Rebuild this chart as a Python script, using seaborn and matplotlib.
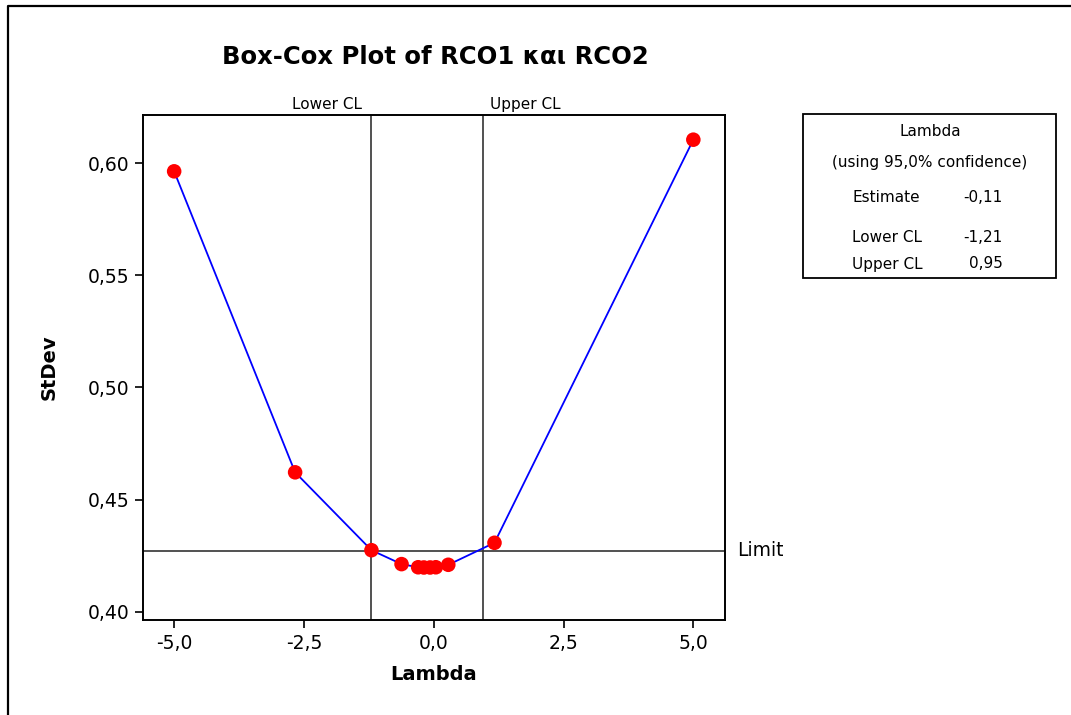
import matplotlib
matplotlib.use("Agg")
import matplotlib.pyplot as plt
from matplotlib.lines import Line2D
from matplotlib.patches import Rectangle
from matplotlib.ticker import FuncFormatter
import seaborn as sns
import pandas as pd

# Data
lambdas = [-5.0, -2.67, -1.20, -0.62, -0.30, -0.19, -0.07, 0.04, 0.28, 1.17, 5.0]
stdevs = [0.5963, 0.4622, 0.4275, 0.4213, 0.4199, 0.4198, 0.4198, 0.4199, 0.4210, 0.4308, 0.6104]
lower_cl = -1.21
upper_cl = 0.95
estimate = -0.11
limit = 0.4273
x_ticks = [-5.0, -2.5, 0.0, 2.5, 5.0]
y_ticks = [0.40, 0.45, 0.50, 0.55, 0.60]

df = pd.DataFrame({"Lambda": lambdas, "StDev": stdevs})

sns.set_style("white")
plt.rcParams["font.family"] = ["DejaVu Sans"]
plt.rcParams["text.color"] = "black"
plt.rcParams["axes.labelcolor"] = "black"
plt.rcParams["xtick.color"] = "black"
plt.rcParams["ytick.color"] = "black"

W, H = 1071, 715
fig = plt.figure(figsize=(W / 100, H / 100), dpi=100)
ax = fig.add_axes([143 / W, 1 - 620 / H, (725 - 143) / W, (620 - 115) / H])

sns.lineplot(data=df, x="Lambda", y="StDev", sort=False, color="#0000ff",
             linewidth=1.3, ax=ax, zorder=3)
sns.scatterplot(data=df, x="Lambda", y="StDev", color="#ff0000", s=110,
                edgecolor="none", ax=ax, zorder=4)

ax.axvline(lower_cl, color="#333333", linewidth=1.2, zorder=2)
ax.axvline(upper_cl, color="#333333", linewidth=1.2, zorder=2)
ax.axhline(limit, color="#333333", linewidth=1.2, zorder=2)

ax.set_xlim(-5.6, 5.61)
ax.set_ylim(0.3964, 0.6214)
ax.set_xticks(x_ticks)
ax.set_yticks(y_ticks)
ax.xaxis.set_major_formatter(FuncFormatter(lambda v, p: f"{v:.1f}".replace(".", ",")))
ax.yaxis.set_major_formatter(FuncFormatter(lambda v, p: f"{v:.2f}".replace(".", ",")))
ax.tick_params(axis="both", direction="out", length=6, width=1.2, color="black",
               labelcolor="black", labelsize=13.5, left=True, bottom=True, pad=4)
for sp in ax.spines.values():
    sp.set_color("black")
    sp.set_linewidth(1.4)

ax.set_xlabel("Lambda", fontsize=14, fontweight="bold", labelpad=9, color="black")
ax.set_ylabel("StDev", fontsize=14, fontweight="bold", labelpad=21, color="black")

# Labels around plot
ax.text(lower_cl - 0.17, 1.006, "Lower CL", transform=ax.get_xaxis_transform(),
        ha="right", va="bottom", fontsize=11, color="black")
ax.text(upper_cl + 0.14, 1.006, "Upper CL", transform=ax.get_xaxis_transform(),
        ha="left", va="bottom", fontsize=11, color="black")
ax.text(1.02, limit, "Limit", transform=ax.get_yaxis_transform(),
        ha="left", va="center", fontsize=13.5, color="black")

fig.text(435 / W, 1 - 57 / H, "Box-Cox Plot of RCO1 και RCO2", ha="center",
         va="center", fontsize=17.5, fontweight="bold", color="black")

# Info box
fig.add_artist(Rectangle((803 / W, 1 - 278 / H), (1056 - 803) / W, (278 - 114) / H,
                         transform=fig.transFigure, fill=False, edgecolor="black",
                         linewidth=1.3))
fs = 11
fig.text(930 / W, 1 - 131 / H, "Lambda", ha="center", va="center", fontsize=fs)
fig.text(930 / W, 1 - 163 / H, "(using 95,0% confidence)", ha="center", va="center", fontsize=fs)
rows = [("Estimate", estimate, 197), ("Lower CL", lower_cl, 237), ("Upper CL", upper_cl, 264)]
for name, val, yy in rows:
    fig.text(852 / W, 1 - yy / H, name, ha="left", va="center", fontsize=fs)
    fig.text(1003 / W, 1 - yy / H, f"{val:.2f}".replace(".", ","), ha="right",
             va="center", fontsize=fs)

# Outer frame (left and top edges visible)
fig.add_artist(Line2D([7.5 / W, 7.5 / W, 1.0], [0.0, 1 - 5.5 / H, 1 - 5.5 / H],
                      transform=fig.transFigure, color="black", linewidth=1.6))

fig.savefig("out.png", dpi=100)
